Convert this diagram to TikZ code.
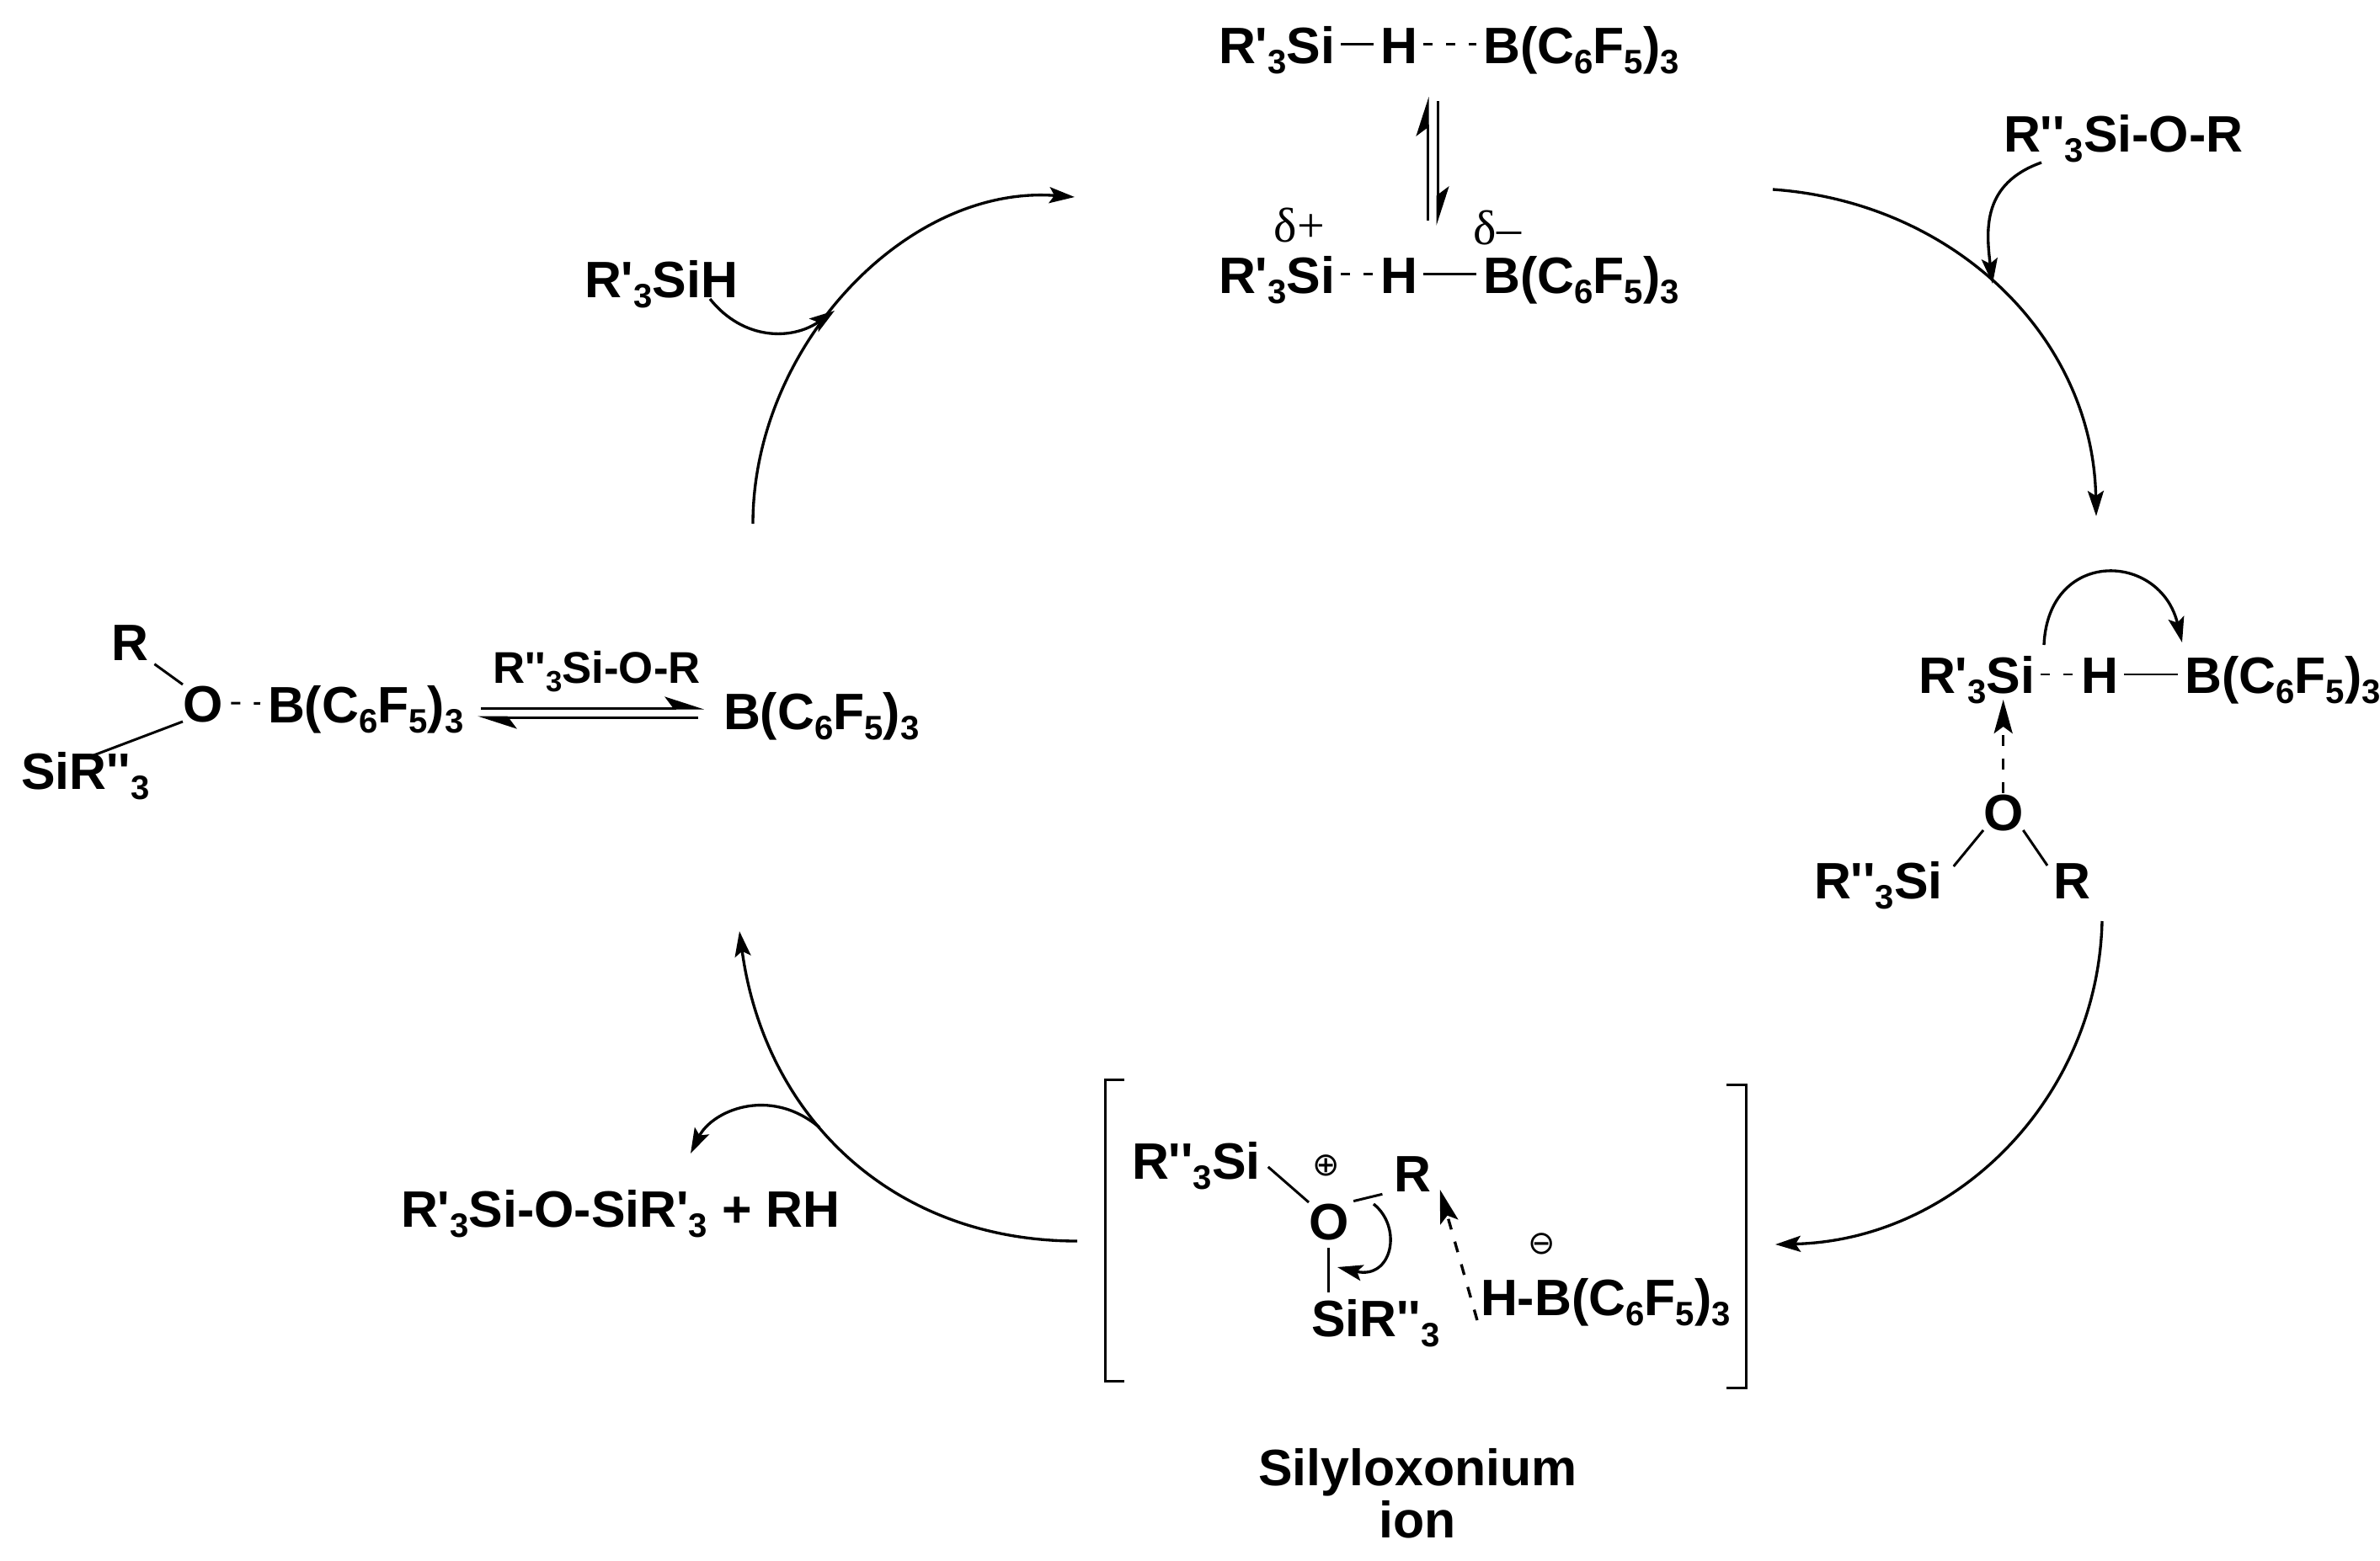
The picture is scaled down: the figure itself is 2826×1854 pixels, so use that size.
\documentclass[tikz,border=0pt]{standalone}
\usepackage{fontspec}
\usetikzlibrary{arrows, arrows.meta, positioning}

\newfontfamily\chemfont{Liberation Sans}
\newfontfamily\deltafont{Liberation Serif}
\newfontfamily\signfont{DejaVu Sans}
\newcommand{\csub}[1]{\raisebox{-.2em}{\scalebox{.66}{#1}}}
\newcommand{\borane}{B(C\csub{6}F\csub{5})\csub{3}}

\begin{document}
\begin{tikzpicture}[x=0.01cm,y=-0.01cm,>={Stealth[length=.3cm,width=.19cm,inset=.06cm]}]
	\tikzstyle{chem} = [font=\chemfont\bfseries\fontsize{17.3}{20}\selectfont, anchor=base west, inner sep=0, outer sep=0, text height=.44cm, text depth=0cm]
	\tikzstyle{chemsmall} = [chem, font=\chemfont\bfseries\fontsize{15}{18}\selectfont, text height=.38cm]
	\tikzstyle{partial} = [font=\deltafont\fontsize{16.5}{20}\selectfont, anchor=base west, inner sep=0]
	\tikzstyle{sign} = [font=\signfont\fontsize{11}{12}\selectfont, inner sep=0]
	\tikzstyle{bond} = [line width=.85pt, shorten <=.07cm, shorten >=.08cm]
	\tikzstyle{dashbond} = [bond, dash pattern=on .11cm off .16cm]
	\tikzstyle{bigarc} = [->, line width=.95pt]
	\tikzstyle{push} = [->, line width=.95pt]
	\tikzstyle{dasharrow} = [line width=.95pt, dash pattern=on .13cm off .15cm, -{Stealth[length=.4cm,width=.22cm,inset=.08cm]}]
	\tikzstyle{harp} = [line width=.85pt, -{Stealth[harpoon,length=.42cm,width=.27cm,inset=.1cm]}]

	\useasboundingbox (0,0) rectangle (2826,1854);

	% top pair
	\node[chem] (siA) at (1447,75) {R'\csub{3}Si};
	\node[chem] (hA) [right=.54cm of siA] {H};
	\node[chem] (bA) [right=.78cm of hA] {\borane};
	\node[chem] (siB) at (1447,348) {R'\csub{3}Si};
	\node[chem] (hB) [right=.54cm of siB] {H};
	\node[chem] (bB) [right=.78cm of hB] {\borane};
	\node[partial] (dplus) at (1512,287) {δ+};
	\node[partial] (dminus) at (1749,290) {δ–};
	\draw[bond] (siA) -- (hA);
	\draw[dashbond] (hA) -- (bA);
	\draw[dashbond] (siB) -- (hB);
	\draw[bond] (hB) -- (bB);
	\coordinate (eqA) at (1695,262);
	\coordinate (eqB) at (1695,115);
	\coordinate (eqC) at (1707,120);
	\coordinate (eqD) at (1707,268);
	\draw[harp] (eqA) -- (eqB);
	\draw[harp] (eqC) -- (eqD);

	% reagents
	\node[chem] (ether) at (2379,180) {R''\csub{3}Si-O-R};
	\node[chem] (silane) at (694,353) {R'\csub{3}SiH};

	% right adduct
	\node[chem] (siC) at (2278,823) {R'\csub{3}Si};
	\node[chem] (hC) [right=.55cm of siC] {H};
	\node[chem] (bC) [right=.79cm of hC] {\borane};
	\node[chem] (oC) at (2355,986) {O};
	\node[chem] (siD) at (2154,1067) {R''\csub{3}Si};
	\node[chem] (rC) at (2438,1067) {R};
	\draw[dashbond] (siC) -- (hC);
	\draw[bond] (hC) -- (bC);
	\draw[bond, shorten <=0cm, shorten >=0cm] (oC.south west) -- ([xshift=.13cm,yshift=-.06cm]siD.north east);
	\draw[bond, shorten <=0cm, shorten >=0cm] (oC.south east) -- ([xshift=-.07cm,yshift=-.05cm]rC.north west);
	\draw[dasharrow] (oC.north) -- ([yshift=-.08cm]oC.north |- siC.south);
	\coordinate (pushA) at (2427,766);
	\coordinate (pushB) at (2591,763);
	\draw[push] (pushA) .. controls +(5,-115) and +(-26,-108) .. (pushB);

	% left adduct
	\node[chem] (rL) at (133,784) {R};
	\node[chem] (oL) at (217,857) {O};
	\node[chem] (bL) at (318,858) {\borane};
	\node[chem] (siL) at (25,937) {SiR''\csub{3}};
	\node[chemsmall] (etherL) at (585,811) {R''\csub{3}Si-O-R};
	\node[chem] (bR) at (859,866) {\borane};
	\draw[dashbond, shorten <=.1cm, shorten >=.09cm] (oL) -- (bL);
	\draw[bond, shorten <=.08cm, shorten >=0cm] (rL.south east) -- (oL.north west);
	\draw[bond, shorten <=0cm, shorten >=0cm] (oL.south west) -- ([xshift=.1cm,yshift=-.04cm]siL.north);
	\coordinate (eqE) at (571,841);
	\coordinate (eqF) at (836,841);
	\coordinate (eqG) at (829,852);
	\coordinate (eqH) at (567,852);
	\draw[harp] (eqE) -- (eqF);
	\draw[harp] (eqG) -- (eqH);

	% silyloxonium
	\node[chem] (siM) at (1344,1400) {R''\csub{3}Si};
	\node[chem] (oM) at (1554,1472) {O};
	\node[chem] (rM) at (1655,1415) {R};
	\node[chem] (siN) at (1557,1587) {SiR''\csub{3}};
	\node[chem] (hM) at (1758,1562) {H-\borane};
	\node[sign] (plus) at (1575,1384) {⊕};
	\node[sign] (minus) at (1831,1477) {⊖};
	\draw[bond, shorten <=.12cm, shorten >=0cm] (siM.east) -- (oM.north west);
	\draw[bond, shorten <=.06cm, shorten >=.14cm] (oM.north east) -- (rM.south west);
	\draw[bond, shorten <=.1cm, shorten >=.08cm] (oM.south) -- (oM.south |- siN.north);
	\draw[dasharrow, shorten >=.03cm, shorten <=0cm] ([xshift=-.04cm,yshift=-.5cm]hM.north west) -- ([xshift=.32cm,yshift=.05cm]rM.south);
	\coordinate (pushC) at (1631,1430);
	\coordinate (pushD) at (1588,1505);
	\draw[push] (pushC) .. controls +(35,28) and +(65,15) .. (pushD);
	\draw[line width=.85pt] (1335,1282) -- (1312,1282) -- (1312,1640) -- (1335,1640);
	\draw[line width=.85pt] (2050,1288) -- (2073,1288) -- (2073,1648) -- (2050,1648);
	\node[chem] (silyl) at (1494,1764) {Silyloxonium};
	\node[chem] (ion) [below=.18cm of silyl] {ion};

	% product
	\node[chem] (prod) at (476,1457) {R'\csub{3}Si-O-SiR'\csub{3} + RH};

	% catalytic cycle
	\coordinate (arcA) at (2105,225);
	\coordinate (arcB) at (2489,613);
	\coordinate (arcC) at (2496,1094);
	\coordinate (arcD) at (2108,1478);
	\coordinate (arcE) at (1279,1474);
	\coordinate (arcF) at (878,1106);
	\coordinate (arcG) at (894,622);
	\coordinate (arcH) at (1276,234);
	\draw[bigarc] (arcA) .. controls +(215,15) and +(-4,-213) .. (arcB);
	\draw[bigarc] (arcC) .. controls +(-5,210) and +(215,-5) .. (arcD);
	\draw[bigarc] (arcE) .. controls +(-220,0) and +(30,220) .. (arcF);
	\draw[bigarc] (arcG) .. controls +(0,-210) and +(-200,-15) .. (arcH);

	% side branches
	\coordinate (sideA) at (2424,193);
	\coordinate (sideB) at (2366,337);
	\coordinate (sideC) at (843,355);
	\coordinate (sideD) at (991,369);
	\coordinate (sideE) at (973,1339);
	\coordinate (sideF) at (820,1370);
	\draw[push] (sideA) .. controls +(-70,25) and +(-8,-65) .. (sideB);
	\draw[push] (sideC) .. controls +(40,50) and +(-50,35) .. (sideD);
	\draw[push] (sideE) .. controls +(-60,-50) and +(25,-50) .. (sideF);
\end{tikzpicture}
\end{document}
